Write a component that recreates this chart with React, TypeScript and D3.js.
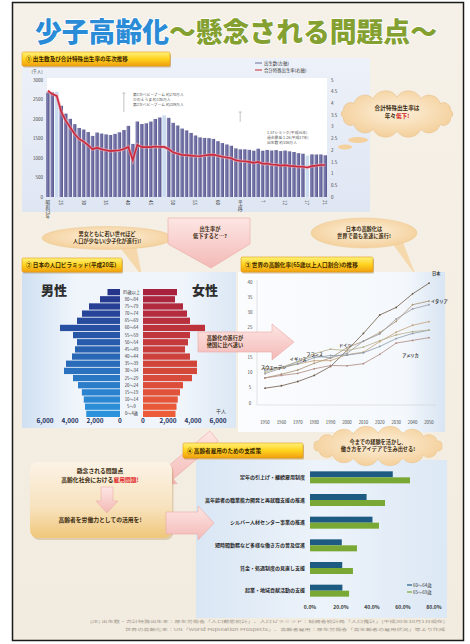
import React from "react";
import * as d3 from "d3";

const FONT = "'Noto Sans CJK JP','Noto Sans',sans-serif";

// ---------- Section 1: births & total fertility rate ----------
const birthYears = [1947,1948,1949,1950,1951,1952,1953,1954,1955,1956,1957,1958,1959,1960,1961,1962,1963,1964,1965,1966,1967,1968,1969,1970,1971,1972,1973,1974,1975,1976,1977,1978,1979,1980,1981,1982,1983,1984,1985,1986,1987,1988,1989,1990,1991,1992,1993,1994,1995,1996,1997,1998,1999,2000,2001,2002,2003,2004,2005,2006,2007,2008,2009];
const births = [2679,2682,2697,2338,2138,2005,1868,1770,1731,1665,1567,1653,1626,1606,1589,1619,1660,1717,1824,1361,1936,1872,1890,1934,2001,2039,2092,2030,1901,1833,1755,1709,1643,1577,1529,1515,1509,1490,1432,1383,1347,1314,1247,1222,1223,1209,1188,1238,1187,1207,1192,1203,1178,1191,1171,1154,1124,1111,1063,1093,1090,1091,1070];
const tfr = [4.54,4.40,4.32,3.65,3.26,2.98,2.69,2.48,2.37,2.22,2.04,2.11,2.04,2.00,1.96,1.98,2.00,2.05,2.14,1.58,2.23,2.13,2.13,2.13,2.16,2.14,2.14,2.05,1.91,1.85,1.80,1.79,1.77,1.75,1.74,1.77,1.80,1.81,1.76,1.72,1.69,1.66,1.57,1.54,1.53,1.50,1.46,1.50,1.42,1.43,1.39,1.38,1.34,1.36,1.33,1.32,1.29,1.29,1.26,1.32,1.34,1.37,1.37];
const highlightYears = [1949, 1973, 2005];
const birthTickYears = [1947,1950,1955,1960,1965,1970,1975,1980,1985,1990,1995,2000,2005,2009];
const birthTickLabels = ["昭和22年","25","30","35","40","45","50","55","60","平成2","7","12","17","21"];
const birthAxisTicks = [0,500,1000,1500,2000,2500,3000];
const tfrAxisTicks = [0,0.5,1,1.5,2,2.5,3,3.5,4,4.5,5];
const leaderYears = [1964, 1990];

// ---------- Section 2: population pyramid ----------
const ageGroups = ["85歳以上","80～84","75～79","70～74","65～69","60～64","55～59","50～54","45～49","40～44","35～39","30～34","25～29","20～24","15～19","10～14","5～9","0～4歳"];
const maleValues = [1000,1600,2480,3040,3440,4800,3760,3440,3600,3840,4320,4480,3760,3360,3050,2900,2800,2700];
const femaleValues = [2720,2560,3200,3520,3760,4960,3760,3600,3360,3760,4320,4320,3920,3200,2960,2780,2680,2600];
const pyramidTicks = [0,2000,4000,6000];

// ---------- Section 3: world ageing rate ----------
const worldYears = [1950,1960,1970,1980,1990,2000,2010,2020,2030,2040,2050];
const agingJapan = [4.9,5.7,7.1,9.1,12.1,17.4,23.0,29.1,31.6,36.1,39.6];
const agingItaly = [8.3,9.5,10.9,13.1,14.9,18.3,20.4,23.3,27.0,32.5,33.7];
const agingGermany = [9.7,11.5,13.7,15.6,14.9,16.4,20.5,22.8,27.8,31.1,32.5];
const agingFrance = [11.4,11.6,12.9,14.0,14.0,16.0,16.8,20.3,23.4,25.7,26.9];
const agingUK = [10.8,11.7,13.0,15.0,15.7,15.8,16.6,18.7,21.3,23.0,24.1];
const agingSweden = [10.2,11.8,13.7,16.3,17.8,17.3,18.5,20.6,22.5,23.6,24.1];
const agingUSA = [8.3,9.1,9.8,11.3,12.4,12.3,13.0,16.1,19.8,20.7,21.6];
const agingTicks = [0,5,10,15,20,25,30,35,40];

// ---------- Section 4: employment support ----------
const employCategories = ["定年の引上げ・継続雇用制度","高年齢者の職業能力開発と再就職支援の推進","シルバー人材センター事業の推進","短時間勤務など多様な働き方の普及促進","賃金・処遇制度の見直し支援","起業・地域貢献活動の支援"];
const employ60 = [53.4,36.5,40.3,20.5,20.8,20.9];
const employ65 = [64.5,48.4,44.5,30.3,27.7,25.2];
const employTicks = [0,20,40,60,80];

function cloudPath(cx: number, cy: number, rx: number, ry: number, n: number) {
  const pts = d3.range(n).map((i) => {
    const a = (2 * Math.PI * i) / n - Math.PI / 2;
    return [cx + rx * Math.cos(a), cy + ry * Math.sin(a)];
  });
  let p = `M${pts[0][0]},${pts[0][1]}`;
  for (let i = 0; i < n; i++) {
    const a = pts[i], b = pts[(i + 1) % n];
    const r = (Math.hypot(b[0] - a[0], b[1] - a[1]) / 2) * 1.15;
    p += `A${r},${r} 0 0 1 ${b[0]},${b[1]}`;
  }
  return p + "Z";
}

function arrowPolygon(x1: number, y1: number, x2: number, y2: number, bw: number, hw: number, hl: number) {
  const dx = x2 - x1, dy = y2 - y1, L = Math.hypot(dx, dy);
  const ux = dx / L, uy = dy / L, nx = -uy, ny = ux;
  const bx = x2 - ux * hl, by = y2 - uy * hl;
  const pts = [
    [x1 + (nx * bw) / 2, y1 + (ny * bw) / 2],
    [bx + (nx * bw) / 2, by + (ny * bw) / 2],
    [bx + (nx * hw) / 2, by + (ny * hw) / 2],
    [x2, y2],
    [bx - (nx * hw) / 2, by - (ny * hw) / 2],
    [bx - (nx * bw) / 2, by - (ny * bw) / 2],
    [x1 - (nx * bw) / 2, y1 - (ny * bw) / 2],
  ];
  return pts.map((p) => p.join(",")).join(" ");
}

function Header({ x, y, w, h, label }: { x: number; y: number; w: number; h: number; label: string }) {
  return (
    <g>
      <rect x={x + 1} y={y + 1.5} width={w} height={h} rx={1.5} fill="rgba(140,90,0,0.35)" />
      <rect x={x} y={y} width={w} height={h} rx={1.5} fill="url(#hdrGrad)" stroke="#e39a12" strokeWidth={0.6} />
      <text x={x + 4} y={y + h / 2 + 2} fontSize={5.6} fontWeight={700} fill="#3b2500">{label}</text>
    </g>
  );
}

export default function App() {
  // Section 1 scales
  const x1 = d3.scaleBand<number>().domain(birthYears).range([46, 327]).paddingInner(0.2);
  const bw = x1.bandwidth();
  const yB = d3.scaleLinear().domain([0, 3000]).range([197, 80]);
  const yT = d3.scaleLinear().domain([0, 5]).range([197, 80]);
  const tfrLine = d3.line<number>().x((_, i) => (x1(birthYears[i]) as number) + bw / 2).y((d) => yT(d));

  // Section 2 scales
  const yP = d3.scaleBand<string>().domain(ageGroups).range([289, 417]).paddingInner(0.12);
  const xM = d3.scaleLinear().domain([0, 6000]).range([120, 45]);
  const xF = d3.scaleLinear().domain([0, 6000]).range([143, 218]);
  const maleColor = d3.interpolateRgb("#26358a", "#2c92dc");
  const femaleColor = d3.interpolateRgb("#a8223e", "#ec5c38");

  // Section 3 scales
  const xW = d3.scaleLinear().domain([1950, 2050]).range([265, 429]);
  const yW = d3.scaleLinear().domain([0, 40]).range([403, 282]);
  const wLine = d3.line<number>().x((_, i) => xW(worldYears[i])).y((d) => yW(d));
  const worldSeries = [
    { name: "日本", values: agingJapan, color: "#6e5a48", lx: 2050, dx: 3, dy: -8 },
    { name: "イタリア", values: agingItaly, color: "#a89070", lx: 2050, dx: 2, dy: 2 },
    { name: "ドイツ", values: agingGermany, color: "#9a9aa2", lx: 2000, dx: -8, dy: -6 },
    { name: "フランス", values: agingFrance, color: "#c4a27a", lx: 1980, dx: -8, dy: -5 },
    { name: "イギリス", values: agingUK, color: "#8a9aaa", lx: 1970, dx: -8, dy: -3 },
    { name: "スウェーデン", values: agingSweden, color: "#b8ae8c", lx: 1950, dx: -4, dy: -3 },
    { name: "アメリカ", values: agingUSA, color: "#b08a80", lx: 2030, dx: 6, dy: 14 },
  ];

  // Section 4 scales
  const yE = d3.scaleBand<string>().domain(employCategories).range([466, 602]);
  const xE = d3.scaleLinear().domain([0, 80]).range([310, 434]);

  const pinkPent = "168,218 250,218 250,244 211,268 168,244";

  return (
    <svg width={470} height={644} style={{ position: "absolute", left: 0, top: 0, fontFamily: FONT }}>
      <defs>
        <linearGradient id="hdrGrad" x1="0" y1="0" x2="0" y2="1">
          <stop offset="0" stopColor="#fff27a" />
          <stop offset="0.5" stopColor="#ffd21e" />
          <stop offset="1" stopColor="#f0a010" />
        </linearGradient>
        <linearGradient id="panel1" x1="0" y1="0" x2="0" y2="1">
          <stop offset="0" stopColor="#edf1f9" />
          <stop offset="1" stopColor="#dfe6f3" />
        </linearGradient>
        <linearGradient id="pyrPanel" x1="0" y1="0" x2="1" y2="0">
          <stop offset="0" stopColor="#cfe0f2" />
          <stop offset="0.25" stopColor="#f0f5fb" />
          <stop offset="0.75" stopColor="#f0f5fb" />
          <stop offset="1" stopColor="#dbe7f4" />
        </linearGradient>
        <linearGradient id="panel3" x1="0" y1="0" x2="1" y2="0">
          <stop offset="0" stopColor="#fbfcfe" />
          <stop offset="0.8" stopColor="#f4f8fc" />
          <stop offset="1" stopColor="#d8e5f3" />
        </linearGradient>
        <linearGradient id="panel4" x1="0" y1="0" x2="1" y2="0">
          <stop offset="0" stopColor="#d9e6f4" />
          <stop offset="0.5" stopColor="#edf3fa" />
          <stop offset="1" stopColor="#dce8f5" />
        </linearGradient>
        <radialGradient id="cloudGrad" cx="0.5" cy="0.45" r="0.6">
          <stop offset="0" stopColor="#fdf1dc" />
          <stop offset="1" stopColor="#f3cd96" />
        </radialGradient>
        <linearGradient id="pinkGrad" x1="0" y1="0" x2="0" y2="1">
          <stop offset="0" stopColor="#fde6e4" />
          <stop offset="1" stopColor="#f3b9b6" />
        </linearGradient>
        <linearGradient id="boxGrad" x1="0" y1="0" x2="0" y2="1">
          <stop offset="0" stopColor="#fcf3e6" />
          <stop offset="0.6" stopColor="#f7e2bd" />
          <stop offset="1" stopColor="#f0c77a" />
        </linearGradient>
        <linearGradient id="barGrad" x1="0" y1="0" x2="1" y2="0">
          <stop offset="0" stopColor="#8c8cbc" />
          <stop offset="1" stopColor="#56568c" />
        </linearGradient>
        <linearGradient id="bgGrad" x1="0" y1="0" x2="0" y2="1">
          <stop offset="0" stopColor="#f6f1e8" />
          <stop offset="1" stopColor="#f2ebdf" />
        </linearGradient>
      </defs>

      {/* frame */}
      <rect x={12.5} y={2.5} width={451} height={638} fill="url(#bgGrad)" stroke="#1a1a1a" strokeWidth={1.5} />

      {/* title */}
      <text x={35} y={42} fontSize={26.8} fontWeight={900} stroke="#ffffff" strokeWidth={1.6} style={{ paintOrder: "stroke" }}>
        <tspan fill="#2a8bd6">少子高齢化</tspan>
        <tspan fill="#84a030">～懸念される問題点～</tspan>
      </text>

      {/* ===== Section 1 ===== */}
      <rect x={22} y={58} width={348} height={154} fill="url(#panel1)" />
      <rect x={47} y={78} width={280} height={119} fill="#ffffff" />
      <Header x={22} y={52} w={148} h={14} label="① 出生数及び合計特殊出生率の年次推移" />

      {birthYears.map((yr, i) => (
        <rect key={yr} x={x1(yr)} y={yB(births[i])} width={bw} height={197 - yB(births[i])}
          fill={highlightYears.includes(yr) ? "#cadcf0" : "url(#barGrad)"} />
      ))}
      <path d={tfrLine(tfr) || ""} fill="none" stroke="#f2a4ac" strokeWidth={3.4} opacity={0.6} />
      <path d={tfrLine(tfr) || ""} fill="none" stroke="#cc2a3c" strokeWidth={1.6} />

      {birthAxisTicks.map((t) => (
        <text key={t} x={43} y={yB(t) + 1.6} fontSize={4.5} textAnchor="end" fill="#444">{t}</text>
      ))}
      <text x={37} y={73} fontSize={4.2} textAnchor="middle" fill="#444">(千人)</text>
      {tfrAxisTicks.map((t) => (
        <text key={t} x={331} y={yT(t) + 1.6} fontSize={4.5} fill="#444">{t}</text>
      ))}
      {birthTickYears.map((yr, i) => (
        <text key={yr} x={(x1(yr) as number) + bw / 2} y={200} fontSize={4.6} fill="#333"
          style={{ writingMode: "vertical-rl" } as any}>{birthTickLabels[i]}</text>
      ))}
      {/* legend */}
      <line x1={255} x2={262} y1={63} y2={63} stroke="#6a6a9a" strokeWidth={1} />
      <text x={264} y={64.5} fontSize={4.4} fill="#333">出生数(左軸)</text>
      <line x1={255} x2={262} y1={70} y2={70} stroke="#cc2a3c" strokeWidth={1} />
      <text x={264} y={71.5} fontSize={4.4} fill="#333">合計特殊出生率(右軸)</text>
      {/* annotations */}
      {leaderYears.map((yr, i) => {
        const cx = (x1(yr) as number) + bw / 2;
        const y0 = i === 0 ? 93 : 112;
        const y1 = i === 0 ? 112 : 122;
        return (
          <g key={yr}>
            <line x1={cx} x2={cx} y1={y0} y2={y1} stroke="#888" strokeWidth={0.5} />
            <line x1={cx - 1.5} x2={cx + 1.5} y1={y0} y2={y0} stroke="#888" strokeWidth={0.5} />
          </g>
        );
      })}
      <text x={133} y={96} fontSize={3.8} fill="#555">第1次ベビーブーム 約270万人</text>
      <text x={133} y={101} fontSize={3.8} fill="#555">ひのえうま 約136万人</text>
      <text x={133} y={106} fontSize={3.8} fill="#555">第2次ベビーブーム 約209万人</text>
      <text x={267} y={134} fontSize={3.8} fill="#555">1.57ショック(平成元年)</text>
      <text x={267} y={139} fontSize={3.8} fill="#555">過去最低 1.26(平成17年)</text>
      <text x={267} y={144} fontSize={3.8} fill="#555">出生数 約106万人</text>

      {/* cloud 1 */}
      <path d={cloudPath(397, 114, 55, 17, 14)} fill="url(#cloudGrad)" stroke="#e8c08a" strokeWidth={0.6} />
      <ellipse cx={358} cy={140} rx={10} ry={3} fill="#f3d09c" />
      <ellipse cx={345} cy={147} rx={7} ry={2.6} fill="#f3d09c" />
      <text x={397} y={110} fontSize={5.6} fontWeight={700} textAnchor="middle" fill="#3a2a10">合計特殊出生率は</text>
      <text x={397} y={118} fontSize={5.6} fontWeight={700} textAnchor="middle" fill="#3a2a10">
        年々<tspan fill="#d02020">低下!</tspan>
      </text>

      {/* ===== middle bubbles ===== */}
      <polygon points="118,245 136,245 142,276" fill="#f5d9ad" />
      <ellipse cx={107} cy={238} rx={65} ry={11.5} fill="url(#cloudGrad)" stroke="#ecc890" strokeWidth={0.5} />
      <text x={107} y={236} fontSize={5.2} fontWeight={700} textAnchor="middle" fill="#3a2a10">男女ともに若い世代ほど</text>
      <text x={107} y={243} fontSize={5.2} fontWeight={700} textAnchor="middle" fill="#3a2a10">人口が少ない(少子化が進行)!</text>
      <polygon points={pinkPent} fill="url(#pinkGrad)" stroke="#eba7a3" strokeWidth={0.6} />
      <text x={210} y={231} fontSize={5.2} fontWeight={700} textAnchor="middle" fill="#3a2a10">出生率が</text>
      <text x={210} y={238} fontSize={5.2} fontWeight={700} textAnchor="middle" fill="#3a2a10">低下すると…?</text>

      <polygon points="392,243 402,240 416,276" fill="#f5d9ad" />
      <ellipse cx={364} cy={233} rx={53} ry={15} fill="url(#cloudGrad)" stroke="#ecc890" strokeWidth={0.5} />
      <text x={364} y={231} fontSize={5.2} fontWeight={700} textAnchor="middle" fill="#3a2a10">日本の高齢化は</text>
      <text x={364} y={238} fontSize={5.2} fontWeight={700} textAnchor="middle" fill="#3a2a10">世界で最も急速に進行!</text>

      {/* ===== Section 2: pyramid ===== */}
      <rect x={22} y={272} width={214} height={156} fill="url(#pyrPanel)" />
      <Header x={22} y={258} w={100} h={14} label="② 日本の人口ピラミッド(平成20年)" />
      <text x={54} y={295} fontSize={13} fontWeight={900} textAnchor="middle" fill="#2e2e2e">男性</text>
      <text x={205} y={295} fontSize={13} fontWeight={900} textAnchor="middle" fill="#2e2e2e">女性</text>
      {ageGroups.map((g, i) => {
        const t = i / (ageGroups.length - 1);
        const y = yP(g) as number;
        return (
          <g key={g}>
            <rect x={xM(maleValues[i])} y={y} width={xM(0) - xM(maleValues[i])} height={yP.bandwidth()} fill={maleColor(t)} />
            <rect x={xF(0)} y={y} width={xF(femaleValues[i]) - xF(0)} height={yP.bandwidth()} fill={femaleColor(t)} />
            <text x={131.5} y={y + yP.bandwidth() / 2 + 1.5} fontSize={4.2} textAnchor="middle" fill="#333">{g}</text>
          </g>
        );
      })}
      {pyramidTicks.map((t) => (
        <g key={t}>
          <text x={xM(t)} y={423} fontSize={6.4} fontWeight={700} textAnchor="middle" fill="#23305e">{d3.format(",")(t)}</text>
          <text x={xF(t)} y={423} fontSize={6.4} fontWeight={700} textAnchor="middle" fill="#23305e">{d3.format(",")(t)}</text>
        </g>
      ))}
      <text x={221} y={413} fontSize={5} textAnchor="middle" fill="#333">千人</text>

      {/* ===== Section 3: world ageing ===== */}
      <rect x={238} y={272} width={207} height={160} fill="url(#panel3)" />
      <Header x={241} y={257} w={132} h={15} label="③ 世界の高齢化率(65歳以上人口割合)の推移" />
      <line x1={257} x2={257} y1={280} y2={405} stroke="#c8c8c8" strokeWidth={0.5} />
      <line x1={257} x2={436} y1={405} y2={405} stroke="#c8c8c8" strokeWidth={0.5} />
      {agingTicks.map((t) => (
        <text key={t} x={250} y={yW(t) + 1.5} fontSize={4.4} textAnchor="middle" fill="#444">{t}</text>
      ))}
      {worldYears.map((yr) => (
        <text key={yr} x={xW(yr)} y={424} fontSize={4.3} textAnchor="middle" fill="#444">{yr}</text>
      ))}
      {worldSeries.map((s) => (
        <g key={s.name}>
          <path d={wLine(s.values) || ""} fill="none" stroke={s.color} strokeWidth={0.8} />
          {s.values.map((v, i) => (
            <circle key={i} cx={xW(worldYears[i])} cy={yW(v)} r={0.9} fill={s.color} />
          ))}
          <text x={xW(s.lx) + s.dx} y={yW(s.values[worldYears.indexOf(s.lx)]) + s.dy} fontSize={4.2} fontWeight={700} fill="#444">{s.name}</text>
        </g>
      ))}

      {/* pink arrow pyramid -> world */}
      <polygon points={arrowPolygon(198, 342, 294, 342, 20, 36, 22)} fill="url(#pinkGrad)" stroke="#eba7a3" strokeWidth={0.6} />
      <text x={225} y={340} fontSize={5.2} fontWeight={700} textAnchor="middle" fill="#3a2a10">高齢化の進行が</text>
      <text x={225} y={347} fontSize={5.2} fontWeight={700} textAnchor="middle" fill="#3a2a10">他国に比べ速い</text>

      {/* ===== Section 4 ===== */}
      <rect x={196} y={460} width={251} height={158} fill="url(#panel4)" />
      <polygon points={arrowPolygon(214, 436, 156, 485, 13, 25, 17)} fill="url(#pinkGrad)" stroke="#eba7a3" strokeWidth={0.6} />
      <Header x={183} y={443} w={120} h={15} label="④ 高齢者雇用のための支援策" />
      <path d={cloudPath(378, 446, 64, 13, 16)} fill="url(#cloudGrad)" stroke="#e8c08a" strokeWidth={0.5} />
      <text x={378} y={444} fontSize={5.2} fontWeight={700} textAnchor="middle" fill="#3a2a10">今までの経験を活かし、</text>
      <text x={378} y={451} fontSize={5.2} fontWeight={700} textAnchor="middle" fill="#3a2a10">働き方をアイデアで生み出せる!</text>

      {employCategories.map((c, i) => {
        const y = yE(c) as number;
        const cy = y + yE.bandwidth() / 2;
        return (
          <g key={c}>
            <text x={305} y={cy + 1.8} fontSize={5} fontWeight={700} textAnchor="end" fill="#2a2a2a">{c}</text>
            <rect x={xE(0)} y={cy - 6} width={xE(employ60[i]) - xE(0)} height={6} fill="#1d5b82" />
            <rect x={xE(0)} y={cy} width={xE(employ65[i]) - xE(0)} height={6} fill="#79a934" />
          </g>
        );
      })}
      {employTicks.map((t) => (
        <text key={t} x={xE(t)} y={609} fontSize={5} fontWeight={700} textAnchor="middle" fill="#333">{t.toFixed(1)}%</text>
      ))}
      <line x1={407} x2={412} y1={585} y2={585} stroke="#1d5b82" strokeWidth={1.2} />
      <text x={413} y={586.5} fontSize={4.4} fill="#333">60～64歳</text>
      <line x1={407} x2={412} y1={592} y2={592} stroke="#79a934" strokeWidth={1.2} />
      <text x={413} y={593.5} fontSize={4.4} fill="#333">65～69歳</text>

      {/* problem box */}
      <rect x={31.5} y={464} width={142} height={76} rx={8} fill="rgba(160,110,30,0.25)" />
      <rect x={30} y={462} width={142} height={76} rx={8} fill="url(#boxGrad)" />
      <text x={100} y={473} fontSize={5.8} fontWeight={700} textAnchor="middle" fill="#3a2a10">懸念される問題点</text>
      <text x={100} y={482} fontSize={5.8} fontWeight={700} textAnchor="middle" fill="#3a2a10">
        高齢化社会における<tspan fill="#e0282a">雇用問題!</tspan>
      </text>
      <polygon points={arrowPolygon(107, 487, 107, 513, 12, 22, 12)} fill="url(#pinkGrad)" stroke="#eba7a3" strokeWidth={0.5} />
      <text x={100} y={522} fontSize={5.8} fontWeight={700} textAnchor="middle" fill="#3a2a10">高齢者を労働力としての活用を!</text>
      <polygon points={arrowPolygon(166, 523, 214, 523, 22, 34, 16)} fill="url(#pinkGrad)" stroke="#eba7a3" strokeWidth={0.6} />

      {/* footer notes */}
      <text x={90} y={623} fontSize={3.9} fill="#9c958a" textLength={355} lengthAdjust="spacingAndGlyphs">
        (注) 出生数・合計特殊出生率：厚生労働省「人口動態統計」、人口ピラミッド：総務省統計局「人口推計」(平成20年10月1日現在)
      </text>
      <text x={125} y={631} fontSize={3.9} fill="#9c958a" textLength={320} lengthAdjust="spacingAndGlyphs">
        世界の高齢化率：UN「World Population Prospects」、高齢者雇用：厚生労働省「高年齢者の雇用状況」等より作成
      </text>
    </svg>
  );
}
